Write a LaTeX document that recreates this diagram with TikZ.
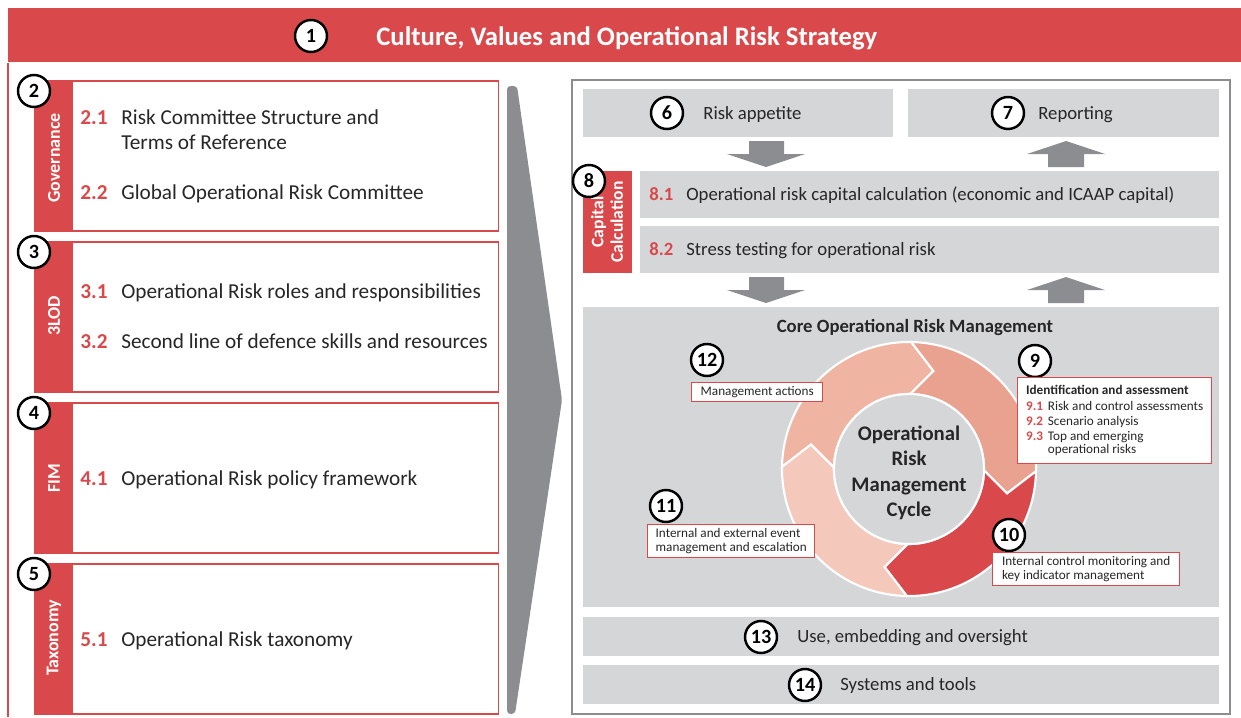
\documentclass[tikz,border=0pt]{standalone}
\usepackage{fontspec}
\setmainfont{Carlito}
\usetikzlibrary{positioning}
\definecolor{orred}{HTML}{D9494B}
\definecolor{boxgray}{HTML}{D5D6D8}
\definecolor{arrowgray}{HTML}{8C8D91}
\definecolor{txt}{HTML}{262626}
\definecolor{seg9}{HTML}{E9A190}
\definecolor{seg11}{HTML}{F4C9BC}
\definecolor{seg12}{HTML}{EFB4A2}
\newcommand{\rnum}[1]{\textbf{\color{orred}#1}}

\begin{document}
\begin{tikzpicture}[x=0.02cm, y=-0.02cm,
        numc/.style={circle, draw=black, line width=1.4pt, fill=white, minimum size=0.64cm, inner sep=0pt, font=\bfseries\fontsize{11.5}{12}\selectfont},
        titlebar/.style={rectangle, fill=orred, anchor=north west, inner sep=0pt},
        leftbox/.style={rectangle, draw=orred, line width=0.9pt, minimum width=9.28cm, minimum height=3cm, anchor=north west, inner sep=0pt},
        band/.style={rectangle, fill=orred, minimum width=0.78cm, minimum height=3cm, anchor=north west, inner sep=0pt},
        bandlbl/.style={rotate=90, text=white, align=center, inner sep=0pt, font=\bfseries\fontsize{10.2}{11}\selectfont},
        litem/.style={anchor=base west, inner sep=0pt, text=txt, font=\fontsize{12.1}{14}\selectfont},
        ritem/.style={anchor=base west, inner sep=0pt, text=txt, font=\fontsize{10.65}{12}\selectfont},
        graybox/.style={rectangle, fill=boxgray, anchor=north west, inner sep=0pt},
        callout/.style={rectangle, draw=orred, line width=0.8pt, fill=white, anchor=north west, align=left, inner sep=0pt, text=txt, font=\fontsize{7.5}{8.8}\selectfont}
    ]
        \useasboundingbox (0,0) rectangle (1241,717);

        % Title bar
        \node[titlebar, minimum width=24.66cm, minimum height=1.08cm] (bar) at (8,8) {};
        \node[numc] (c1) at (311,36) {1};
        \node[anchor=base west, inner sep=0pt, text=white, font=\bfseries\fontsize{15.2}{17}\selectfont] (title) at (376,45) {Culture, Values and Operational Risk Strategy};
        \coordinate (lbot) at (8,717);
        \draw[orred, line width=1pt] (bar.south west) -- (lbot);

        % Left column
        \node[leftbox] (gov) at (34,80) {};
        \node[band] (govband) at (34,80) {};
        \node[bandlbl] (govlbl) at (54,158) {Governance};
        \node[numc] (c2) at (34,91) {2};
        \node[litem] (n21) at (80,124) {\rnum{2.1}};
        \node[litem] (t21) at (121,124) {Risk Committee Structure and};
        \node[litem] (t21b) at (121,149) {Terms of Reference};
        \node[litem] (n22) at (80,199) {\rnum{2.2}};
        \node[litem] (t22) at (121,199) {Global Operational Risk Committee};

        \node[leftbox] (lod) at (34,241) {};
        \node[band] (lodband) at (34,241) {};
        \node[bandlbl] (lodlbl) at (54,316) {3LOD};
        \node[numc] (c3) at (34,252) {3};
        \node[litem] (n31) at (80,298) {\rnum{3.1}};
        \node[litem] (t31) at (121,298) {Operational Risk roles and responsibilities};
        \node[litem] (n32) at (80,348) {\rnum{3.2}};
        \node[litem] (t32) at (121,348) {Second line of defence skills and resources};

        \node[leftbox] (fim) at (34,402) {};
        \node[band] (fimband) at (34,402) {};
        \node[bandlbl] (fimlbl) at (54,478) {FIM};
        \node[numc] (c4) at (34,413) {4};
        \node[litem] (n41) at (80,485) {\rnum{4.1}};
        \node[litem] (t41) at (121,485) {Operational Risk policy framework};

        \node[leftbox] (tax) at (34,563) {};
        \node[band] (taxband) at (34,563) {};
        \node[bandlbl] (taxlbl) at (54,638) {Taxonomy};
        \node[numc] (c5) at (34,574) {5};
        \node[litem] (n51) at (80,646) {\rnum{5.1}};
        \node[litem] (t51) at (121,646) {Operational Risk taxonomy};

        % Big chevron
        \fill[arrowgray, rounded corners=2pt] (507,86) -- (517,86) -- (562,400) -- (515,714) -- (507,714) -- cycle;

        % Right panel
        \node[rectangle, draw=arrowgray, line width=1pt, anchor=north west, minimum width=13.16cm, minimum height=12.68cm] (panel) at (571,79) {};
        \node[graybox, minimum width=6.2cm, minimum height=0.96cm] (appetite) at (583,89) {};
        \node[numc] (c6) at (667,113) {6};
        \node[ritem] (tappetite) at (703,119) {Risk appetite};
        \node[graybox, minimum width=6.22cm, minimum height=0.96cm] (reporting) at (908,89) {};
        \node[numc] (c7) at (1008,113) {7};
        \node[ritem] (treporting) at (1038,119) {Reporting};

        % Block arrows
        \fill[arrowgray] (749,141) -- (784,141) -- (784,154) -- (805,154) -- (766,167) -- (727,154) -- (749,154) -- cycle;
        \fill[arrowgray] (1066,141) -- (1105,154) -- (1084,154) -- (1084,167) -- (1048,167) -- (1048,154) -- (1027,154) -- cycle;
        \fill[arrowgray] (749,277) -- (784,277) -- (784,290) -- (805,290) -- (766,303) -- (727,290) -- (749,290) -- cycle;
        \fill[arrowgray] (1066,277) -- (1105,290) -- (1084,290) -- (1084,303) -- (1048,303) -- (1048,290) -- (1027,290) -- cycle;

        % Capital calculation
        \node[graybox, fill=orred, minimum width=0.98cm, minimum height=2.04cm] (capband) at (583,171) {};
        \node[bandlbl, font=\bfseries\fontsize{10}{11}\selectfont] (caplbl) at (607,222) {Capital\\Calculation};
        \node[graybox, minimum width=11.58cm, minimum height=0.94cm] (cap81) at (640,171) {};
        \node[graybox, minimum width=11.58cm, minimum height=0.94cm] (cap82) at (640,226) {};
        \node[numc] (c8) at (589,181) {8};
        \node[ritem] (n81) at (649,200) {\rnum{8.1}};
        \node[ritem] (t81) at (686,200) {Operational risk capital calculation (economic and ICAAP capital)};
        \node[ritem] (n82) at (649,255) {\rnum{8.2}};
        \node[ritem] (t82) at (686,255) {Stress testing for operational risk};

        % Core cycle
        \node[graybox, minimum width=12.72cm, minimum height=6cm] (core) at (583,307) {};
        \node[ritem, anchor=base, font=\bfseries\fontsize{10.65}{12}\selectfont] (coretitle) at (915,332) {Core Operational Risk Management};
        \begin{scope}[shift={(909,469)}, yscale=-1, line width=1.2pt]
            \filldraw[fill=seg12, draw=white] (179:127) arc[start angle=179, end angle=89, radius=127] -- (76:101) -- (89:75) arc[start angle=89, end angle=179, radius=75] -- (166:101) -- cycle;
            \filldraw[fill=seg9, draw=white] (89:127) arc[start angle=89, end angle=-1, radius=127] -- (-14:101) -- (-1:75) arc[start angle=-1, end angle=89, radius=75] -- (76:101) -- cycle;
            \filldraw[fill=orred, draw=white] (-1:127) arc[start angle=-1, end angle=-91, radius=127] -- (-104:101) -- (-91:75) arc[start angle=-91, end angle=-1, radius=75] -- (-14:101) -- cycle;
            \filldraw[fill=seg11, draw=white] (-91:127) arc[start angle=-91, end angle=-181, radius=127] -- (166:101) -- (-181:75) arc[start angle=-181, end angle=-91, radius=75] -- (-104:101) -- cycle;
            \filldraw[fill=boxgray, draw=white] (0,0) circle[radius=75];
        \end{scope}
        \node[align=center, text=txt, font=\bfseries\fontsize{11.8}{14.5}\selectfont] (cycle) at (909,473) {Operational\\Risk\\Management\\Cycle};

        % Callouts
        \node[numc] (c12) at (707,360) {12};
        \node[callout, minimum width=2.62cm, minimum height=0.38cm] (mgmt) at (691,382) {Management actions};
        \node[numc] (c9) at (1035,361) {9};
        \node[callout, minimum width=3.88cm, minimum height=1.72cm] (ident) at (1017,377) {\textbf{Identification and assessment}\\
            \makebox[12.4pt][l]{\rnum{9.1}}Risk and control assessments\\
            \makebox[12.4pt][l]{\rnum{9.2}}Scenario analysis\\
            \makebox[12.4pt][l]{\rnum{9.3}}Top and emerging\\[-1.4pt]
            \hspace*{12.4pt}operational risks};
        \node[numc] (c11) at (666,506) {11};
        \node[callout, minimum width=3.34cm, minimum height=0.66cm] (event) at (647,524) {Internal and external event\\[-0.8pt]management and escalation};
        \node[numc] (c10) at (1009,535) {10};
        \node[callout, minimum width=3.74cm, minimum height=0.66cm] (control) at (992,552) {Internal control monitoring and\\[-0.8pt]key indicator management};

        % Bottom rows
        \node[graybox, minimum width=12.72cm, minimum height=0.78cm] (embed) at (583,617) {};
        \node[numc] (c13) at (761,637) {13};
        \node[ritem] (tembed) at (797,642) {Use, embedding and oversight};
        \node[graybox, minimum width=12.72cm, minimum height=0.78cm] (systems) at (583,665) {};
        \node[numc] (c14) at (805,685) {14};
        \node[ritem] (tsystems) at (840,690) {Systems and tools};
    \end{tikzpicture}
\end{document}
